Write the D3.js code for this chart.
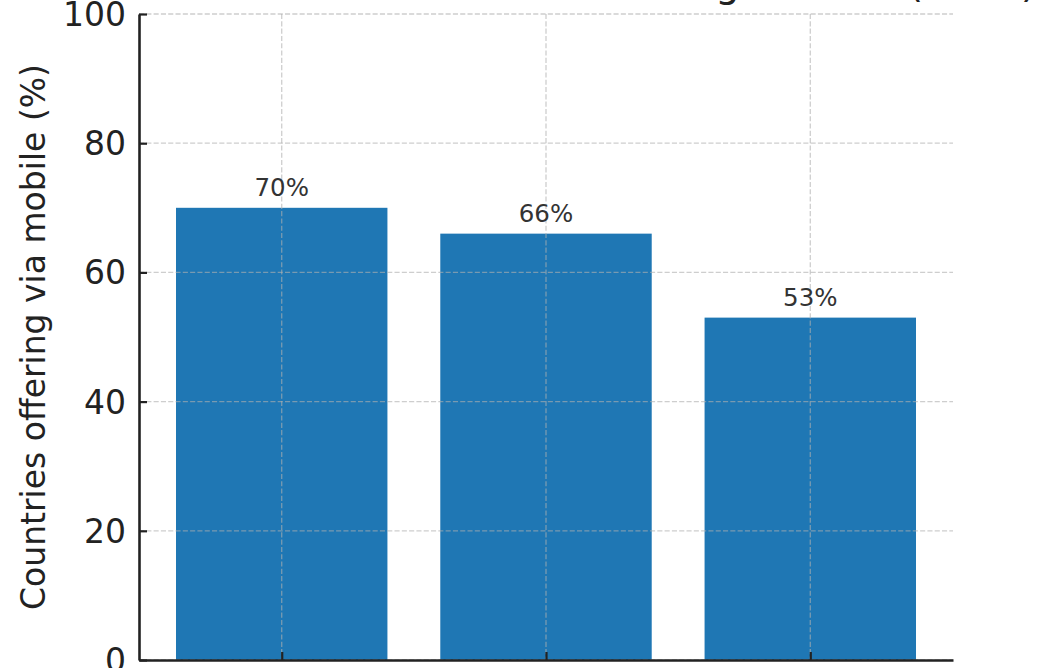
<!DOCTYPE html>
<html>
<head>
<meta charset="utf-8">
<script src="https://cdn.jsdelivr.net/npm/d3@7"></script>
<style>
  html, body { margin: 0; padding: 0; background: #ffffff; overflow: hidden; }
  svg { display: block; font-family: "DejaVu Sans", sans-serif; }
</style>
</head>
<body>
<svg id="chart" width="1058" height="668"></svg>
<script>
// ---- data ----
const categories = ["Education", "Health", "Employment"];
const values = [70, 66, 53];
const yTicks = [0, 20, 40, 60, 80, 100];
const titleText = "Services Available via Mobile Among Sectors (2022)";
const yLabel = "Countries offering via mobile (%)";

// ---- layout ----
const W = 1058, H = 668;
const plot = { left: 139, right: 953, top: 14, bottom: 660 };

const svg = d3.select("#chart");

const x = d3.scaleLinear()
  .domain([-0.54, categories.length - 1 + 0.54])
  .range([plot.left, plot.right]);
const y = d3.scaleLinear().domain([0, 100]).range([plot.bottom, plot.top]);
const barW = 0.8;

// bars
svg.append("g").selectAll("rect")
  .data(values)
  .join("rect")
  .attr("x", (d, i) => x(i - barW / 2))
  .attr("width", (d, i) => x(i + barW / 2) - x(i - barW / 2))
  .attr("y", d => y(d))
  .attr("height", d => y(0) - y(d))
  .attr("fill", "#1f77b4");

// grid (drawn on top, semi-transparent)
const grid = svg.append("g")
  .attr("stroke", "#b0b0b0")
  .attr("stroke-opacity", 0.62)
  .attr("stroke-width", 1.3)
  .attr("stroke-dasharray", "5.1,2.2");
grid.selectAll("line.h")
  .data(yTicks)
  .join("line")
  .attr("class", "h")
  .attr("x1", plot.left).attr("x2", plot.right)
  .attr("y1", d => y(d)).attr("y2", d => y(d));
grid.selectAll("line.v")
  .data(categories)
  .join("line")
  .attr("class", "v")
  .attr("x1", (d, i) => x(i)).attr("x2", (d, i) => x(i))
  .attr("y1", plot.top).attr("y2", plot.bottom);

// value labels
svg.append("g").selectAll("text")
  .data(values)
  .join("text")
  .attr("x", (d, i) => x(i))
  .attr("y", d => y(d) - 12)
  .attr("text-anchor", "middle")
  .attr("font-size", 24.5)
  .attr("fill", "#333333")
  .text(d => d + "%");

// y axis
const yAxis = d3.axisLeft(y)
  .tickValues(yTicks)
  .tickSizeInner(-8)
  .tickSizeOuter(0)
  .tickPadding(13);
const gy = svg.append("g")
  .attr("transform", `translate(${plot.left},0)`)
  .call(yAxis);
gy.select(".domain").attr("stroke", "#222222").attr("stroke-width", 2.6);
gy.selectAll(".tick line").attr("stroke", "#222222").attr("stroke-width", 2.2);
gy.selectAll(".tick text")
  .attr("font-size", 33)
  .attr("font-family", "DejaVu Sans, sans-serif")
  .attr("fill", "#222222")
  .attr("dy", "0.35em");

// x axis
const xAxis = d3.axisBottom(x)
  .tickValues(categories.map((d, i) => i))
  .tickFormat(i => categories[i])
  .tickSizeInner(-8)
  .tickSizeOuter(0)
  .tickPadding(16);
const gx = svg.append("g")
  .attr("transform", `translate(0,${plot.bottom})`)
  .call(xAxis);
gx.select(".domain").attr("stroke", "#222222").attr("stroke-width", 2.6);
gx.selectAll(".tick line").attr("stroke", "#222222").attr("stroke-width", 2.2);
gx.selectAll(".tick text")
  .attr("font-size", 33)
  .attr("font-family", "DejaVu Sans, sans-serif")
  .attr("fill", "#222222");

// y label
svg.append("text")
  .attr("transform", `translate(45,${(plot.top + plot.bottom) / 2}) rotate(-90)`)
  .attr("text-anchor", "middle")
  .attr("font-size", 33)
  .attr("fill", "#222222")
  .text(yLabel);

// title (mostly cut off at top, as in the reference)
svg.append("text")
  .attr("x", 1036)
  .attr("y", -3)
  .attr("text-anchor", "end")
  .attr("font-size", 38.5)
  .attr("fill", "#222222")
  .text(titleText);
</script>
</body>
</html>
